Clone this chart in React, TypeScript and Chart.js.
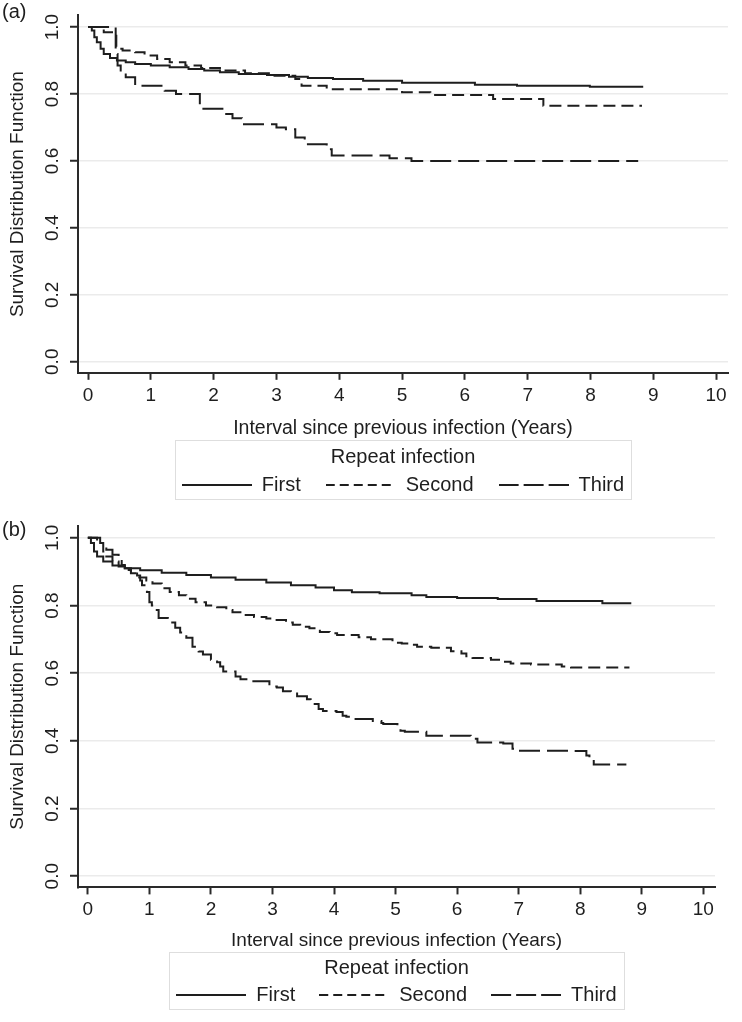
import React, { useEffect, useRef } from "react";
import { Chart, registerables } from "chart.js";

Chart.register(...registerables);

const FONT = "'Liberation Sans', Arial, Helvetica, sans-serif";
const INK = "#1e1e1e";

// ---------- tick labels / texts ----------
const xTicks = [0, 1, 2, 3, 4, 5, 6, 7, 8, 9, 10];
const yTicks = [0, 0.2, 0.4, 0.6, 0.8, 1.0];
const seriesNames = ["First", "Second", "Third"];
const legendTitle = "Repeat infection";
const xTitle = "Interval since previous infection (Years)";
const yTitle = "Survival Distribution Function";

// ---------- panel (a) ----------
const aFirstT = [0, 0.06, 0.1, 0.14, 0.2, 0.25, 0.35, 0.46, 0.6, 0.75, 1.0, 1.3, 1.6, 1.85, 2.1, 2.4, 2.85, 3.2, 3.5, 3.9, 4.38, 5.0, 6.16, 6.83, 7.99, 8.84];
const aFirstS = [1.0, 0.99, 0.97, 0.955, 0.935, 0.92, 0.908, 0.9, 0.895, 0.89, 0.885, 0.88, 0.875, 0.87, 0.865, 0.86, 0.857, 0.852, 0.848, 0.845, 0.84, 0.834, 0.828, 0.825, 0.822, 0.822];

const aSecondT = [0, 0.25, 0.45, 0.55, 0.75, 0.9, 1.1, 1.3, 1.55, 1.8, 2.1, 2.5, 2.9, 3.3, 3.4, 3.8, 5.0, 5.45, 6.45, 7.25, 8.82];
const aSecondS = [1.0, 0.985, 0.935, 0.93, 0.925, 0.915, 0.905, 0.895, 0.885, 0.878, 0.87, 0.862, 0.855, 0.845, 0.825, 0.814, 0.805, 0.797, 0.785, 0.765, 0.765];

const aThirdT = [0, 0.44, 0.47, 0.52, 0.6, 0.75, 1.22, 1.4, 1.78, 2.2, 2.3, 2.45, 3.0, 3.15, 3.3, 3.45, 3.8, 3.88, 4.8, 5.15, 8.76];
const aThirdS = [1.0, 0.92, 0.885, 0.865, 0.85, 0.825, 0.81, 0.8, 0.756, 0.74, 0.728, 0.71, 0.7, 0.695, 0.67, 0.65, 0.635, 0.616, 0.608, 0.6, 0.6];

// ---------- panel (b) ----------
const bFirstT = [0, 0.05, 0.1, 0.15, 0.25, 0.4, 0.6, 0.85, 1.2, 1.6, 2.0, 2.4, 2.9, 3.3, 3.7, 4.0, 4.29, 4.74, 5.26, 5.5, 6.0, 6.66, 7.29, 8.36, 8.83];
const bFirstS = [1.0, 0.985, 0.96, 0.945, 0.93, 0.918, 0.91, 0.904, 0.897, 0.89, 0.883, 0.876, 0.868, 0.86, 0.853, 0.845, 0.839, 0.836, 0.83, 0.825, 0.822, 0.819, 0.813, 0.807, 0.807];

const bSecondT = [0, 0.15, 0.25, 0.3, 0.4, 0.5, 0.6, 0.7, 0.8, 0.95, 1.05, 1.2, 1.33, 1.48, 1.6, 1.75, 1.92, 2.1, 2.25, 2.35, 2.5, 2.7, 2.9, 3.05, 3.22, 3.33, 3.45, 3.6, 3.77, 3.93, 4.05, 4.4, 4.6, 4.95, 5.1, 5.25, 5.35, 5.58, 5.9, 6.07, 6.15, 6.25, 6.55, 6.75, 6.87, 7.2, 7.7, 7.85, 8.8];
const bSecondS = [1.0, 0.985, 0.96, 0.945, 0.93, 0.915, 0.905, 0.895, 0.883, 0.874, 0.865, 0.851, 0.84, 0.83, 0.82, 0.81, 0.8, 0.795, 0.787, 0.78, 0.772, 0.766, 0.762, 0.757, 0.75, 0.743, 0.737, 0.733, 0.722, 0.718, 0.713, 0.706, 0.7, 0.69, 0.688, 0.684, 0.678, 0.675, 0.665, 0.658, 0.65, 0.645, 0.64, 0.634, 0.629, 0.626, 0.62, 0.617, 0.617];

const bThirdT = [0, 0.2, 0.3, 0.4, 0.5, 0.55, 0.6, 0.7, 0.8, 0.85, 0.88, 0.92, 0.96, 1.0, 1.04, 1.1, 1.15, 1.3, 1.35, 1.42, 1.5, 1.6, 1.7, 1.8, 1.87, 2.0, 2.1, 2.15, 2.2, 2.4, 2.48, 2.6, 2.95, 3.07, 3.17, 3.3, 3.4, 3.56, 3.62, 3.75, 3.82, 4.04, 4.14, 4.2, 4.35, 4.63, 4.77, 4.8, 5.03, 5.08, 5.15, 5.5, 6.22, 6.33, 6.75, 6.9, 6.95, 7.9, 8.1, 8.15, 8.22, 8.75];
const bThirdS = [1.0, 0.985, 0.965, 0.95, 0.935, 0.92, 0.91, 0.898, 0.889, 0.874, 0.86, 0.85, 0.84, 0.81, 0.8, 0.787, 0.763, 0.757, 0.75, 0.734, 0.72, 0.705, 0.678, 0.664, 0.655, 0.64, 0.632, 0.62, 0.605, 0.59, 0.582, 0.576, 0.561, 0.558, 0.547, 0.544, 0.532, 0.523, 0.509, 0.494, 0.488, 0.485, 0.474, 0.471, 0.465, 0.459, 0.453, 0.45, 0.44, 0.43, 0.427, 0.415, 0.406, 0.395, 0.392, 0.377, 0.371, 0.37, 0.357, 0.348, 0.33, 0.33];

// ---------- styles ----------
const lineDashes = [[], [12, 6], [21, 7]];
const legendDashes = [[], [9, 5], [20, 5]];
const SAMPLE_LEN = 70;

function makeSample(dash: number[]) {
  const c = document.createElement("canvas");
  c.width = SAMPLE_LEN;
  c.height = 4;
  const g = c.getContext("2d") as CanvasRenderingContext2D;
  g.strokeStyle = INK;
  g.lineWidth = 2;
  g.setLineDash(dash);
  g.beginPath();
  g.moveTo(0, 2);
  g.lineTo(SAMPLE_LEN, 2);
  g.stroke();
  return c;
}

const decorPlugin = {
  id: "panelDecor",
  afterDraw(chart: any, _args: any, opts: any) {
    const ctx = chart.ctx;
    ctx.save();
    ctx.font = `20px ${FONT}`;
    ctx.fillStyle = INK;
    ctx.textBaseline = "middle";
    ctx.textAlign = "left";
    ctx.fillText(opts.label, opts.labelX, opts.labelY);
    const lg = chart.legend;
    if (lg && lg.legendHitBoxes && lg.legendHitBoxes.length) {
      const hb = lg.legendHitBoxes;
      const last = hb[hb.length - 1];
      const left = Math.round(hb[0].left - 7);
      const right = Math.round(last.left + last.width + 7);
      const top = Math.round(lg.top);
      ctx.strokeStyle = "#dedede";
      ctx.lineWidth = 1;
      ctx.strokeRect(left + 0.5, top + 0.5, right - left, opts.boxH);
    }
    ctx.restore();
  },
};

function buildChart(canvas: HTMLCanvasElement, cfg: any) {
  const series = [
    [cfg.t[0], cfg.s[0]],
    [cfg.t[1], cfg.s[1]],
    [cfg.t[2], cfg.s[2]],
  ];
  const samples = legendDashes.map((d) => makeSample(d));
  const datasets = series.map(([t, s], i) => ({
    label: seriesNames[i],
    data: t.map((x: number, k: number) => ({ x, y: s[k] })),
    borderColor: INK,
    borderWidth: 2,
    borderDash: lineDashes[i],
    pointRadius: 0,
    pointHoverRadius: 0,
    stepped: "before",
    fill: false,
    tension: 0,
  }));

  return new Chart(canvas, {
    type: "line",
    data: { datasets } as any,
    plugins: [decorPlugin as any],
    options: {
      animation: false,
      responsive: false,
      maintainAspectRatio: false,
      events: [],
      layout: { padding: cfg.pad },
      plugins: {
        tooltip: { enabled: false },
        panelDecor: { label: cfg.label, labelX: 2, labelY: cfg.labelY, boxH: cfg.boxH },
        legend: {
          display: true,
          position: "bottom",
          fullSize: false,
          align: "center",
          title: {
            display: true,
            text: legendTitle,
            color: INK,
            font: { size: 20, family: FONT },
            padding: { top: cfg.legTitleTop, bottom: -21 },
          },
          labels: {
            usePointStyle: true,
            pointStyleWidth: SAMPLE_LEN,
            padding: cfg.legPad,
            color: INK,
            font: { size: 20, family: FONT },
            generateLabels: (chart: any) =>
              chart.data.datasets.map((ds: any, i: number) => ({
                text: ds.label,
                pointStyle: samples[i],
                fillStyle: "rgba(0,0,0,0)",
                strokeStyle: "rgba(0,0,0,0)",
                lineWidth: 0,
                hidden: false,
                datasetIndex: i,
                fontColor: INK,
              })),
          },
        },
      } as any,
      scales: {
        x: {
          type: "linear",
          min: -0.16,
          max: 10.19,
          afterBuildTicks: (sc: any) => {
            sc.ticks = xTicks.map((v) => ({ value: v }));
          },
          ticks: {
            autoSkip: false,
            maxRotation: 0,
            minRotation: 0,
            padding: cfg.xTickPad,
            color: INK,
            font: { size: 19, family: FONT },
            callback: (v: any) => String(v),
          },
          grid: { drawOnChartArea: false, drawTicks: true, tickLength: 7, tickWidth: 2, tickColor: "#2a2a2a" },
          border: { display: true, color: "#2a2a2a", width: 2 },
          title: {
            display: true,
            text: xTitle,
            color: INK,
            font: { size: cfg.xTitleSize, family: FONT },
            padding: { top: 4, bottom: 0 },
          },
        },
        y: {
          type: "linear",
          min: -0.033,
          max: 1.035,
          afterBuildTicks: (sc: any) => {
            sc.ticks = yTicks.map((v) => ({ value: v }));
          },
          afterFit: (sc: any) => {
            sc.width = 78;
          },
          ticks: {
            minRotation: 90,
            maxRotation: 90,
            crossAlign: "center",
            padding: 4,
            color: INK,
            font: { size: 19, family: FONT },
            callback: (v: any) => Number(v).toFixed(1),
          },
          grid: { color: "#ebebeb", lineWidth: 1.5, tickLength: 8, tickWidth: 2, tickColor: "#2a2a2a" },
          border: { display: true, color: "#2a2a2a", width: 2 },
          title: {
            display: true,
            text: yTitle,
            color: INK,
            font: { size: 19, family: FONT },
            padding: { top: 6, bottom: 0 },
          },
        },
      } as any,
    },
  } as any);
}

const panelA = {
  label: "(a)",
  labelY: 12,
  t: [aFirstT, aSecondT, aThirdT],
  s: [aFirstS, aSecondS, aThirdS],
  pad: { top: 5, right: 14, bottom: 0, left: 0 },
  legTitleTop: 7,
  legPad: 25,
  xTickPad: 5,
  xTitleSize: 19.5,
  boxH: 59,
};

const panelB = {
  label: "(b)",
  labelY: 25,
  t: [bFirstT, bSecondT, bThirdT],
  s: [bFirstS, bSecondS, bThirdS],
  pad: { top: 21, right: 27, bottom: 7, left: 0 },
  legTitleTop: 6,
  legPad: 24,
  xTickPad: 4,
  xTitleSize: 19,
  boxH: 57,
};

export default function App() {
  const refA = useRef<HTMLCanvasElement | null>(null);
  const refB = useRef<HTMLCanvasElement | null>(null);

  useEffect(() => {
    const ca = buildChart(refA.current as HTMLCanvasElement, panelA);
    const cb = buildChart(refB.current as HTMLCanvasElement, panelB);
    return () => {
      ca.destroy();
      cb.destroy();
    };
  }, []);

  return (
    <div style={{ position: "absolute", left: 0, top: 0, width: 742, height: 1022, background: "#fff", overflow: "hidden" }}>
      <canvas ref={refA} width={742} height={505} style={{ position: "absolute", left: 0, top: 0, width: 742, height: 505 }} />
      <canvas ref={refB} width={742} height={517} style={{ position: "absolute", left: 0, top: 505, width: 742, height: 517 }} />
    </div>
  );
}
